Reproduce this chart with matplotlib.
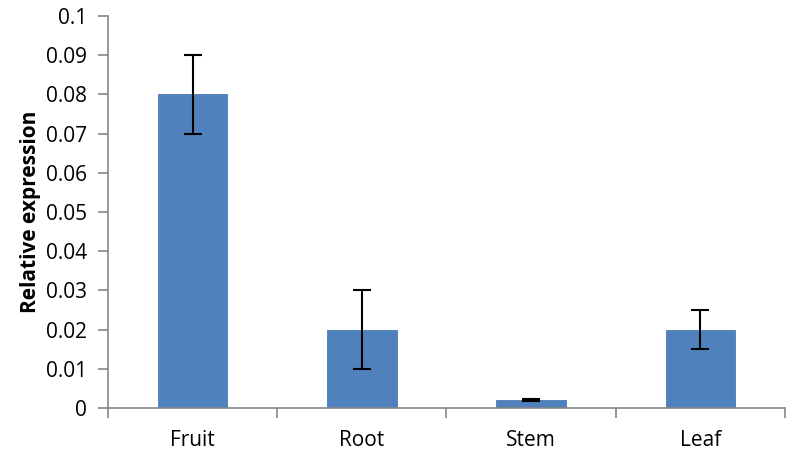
import matplotlib.pyplot as plt
import numpy as np

tissues = ['Fruit', 'Root', 'Stem', 'Leaf']
expression = [0.08, 0.02, 0.002, 0.02]
errors = [0.01, 0.01, 0.0003, 0.005]

plt.rcParams['font.family'] = ['Open Sans', 'DejaVu Sans']

fig = plt.figure(figsize=(7.96, 4.53), dpi=100)
ax = fig.add_axes([0.1357, 0.0993, 0.8503, 0.8654])

x = np.arange(len(tissues))
ax.bar(x, expression, width=0.41, color='#4f81bd', edgecolor='#4a7ab3', linewidth=0.6,
       yerr=errors, error_kw=dict(ecolor='black', elinewidth=1.5, capsize=6.5, capthick=1.5))

ax.set_xlim(-0.5, len(tissues) - 0.5)
ax.set_ylim(0, 0.1)
ax.set_yticks(np.arange(0, 0.1001, 0.01))
ax.set_yticklabels(['0'] + ['%.2f' % v for v in np.arange(0.01, 0.095, 0.01)] + ['0.1'], fontsize=15)
ax.set_xticks(x)
ax.set_xticklabels(tissues, fontsize=15)
ax.set_xticks(np.arange(-0.5, len(tissues)), minor=True)
ax.tick_params(axis='x', which='major', length=0, pad=16)
ax.tick_params(axis='x', which='minor', length=7, color='#868686', width=1.2)
ax.tick_params(axis='y', length=7, color='#868686', width=1.2, pad=8)

for s in ['top', 'right']:
    ax.spines[s].set_visible(False)
for s in ['left', 'bottom']:
    ax.spines[s].set_color('#868686')
    ax.spines[s].set_linewidth(1.2)

ax.set_ylabel('Relative expression', fontsize=15, fontweight='bold', labelpad=4)

plt.savefig('out.png')
